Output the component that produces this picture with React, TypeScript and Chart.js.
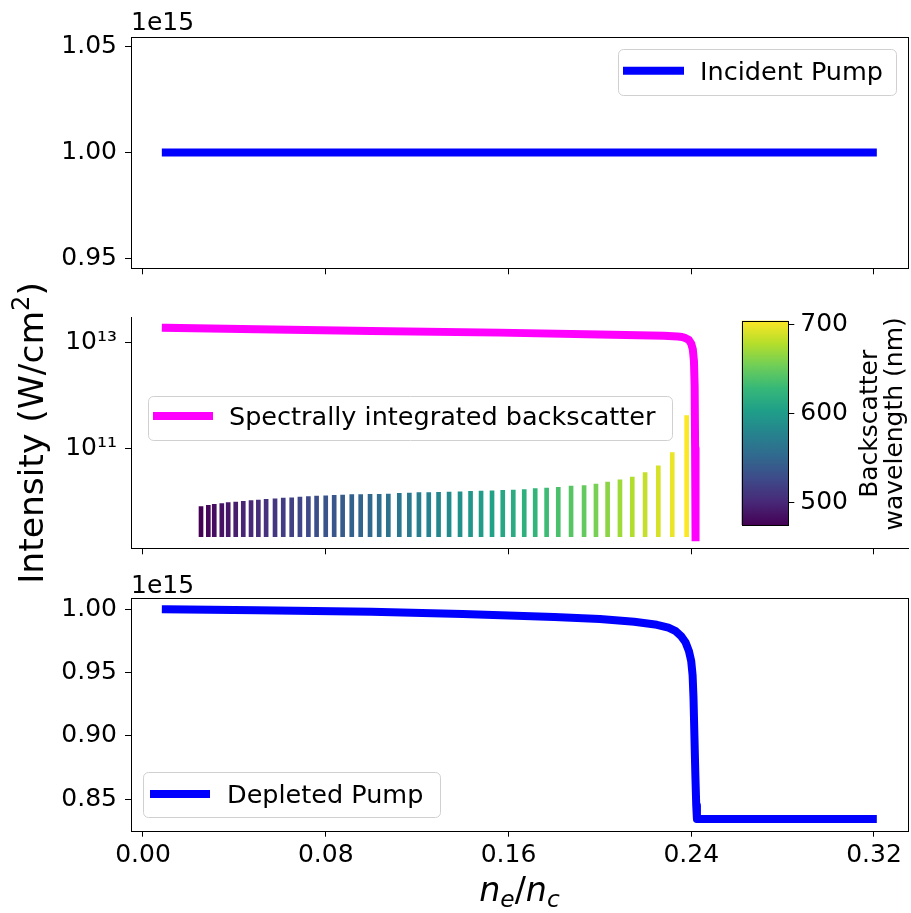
import React, { useEffect, useRef } from "react";
import { Chart, registerables } from "chart.js";

Chart.register(...registerables);

const W = 911;
const H = 913;
const FONT = "'DejaVu Sans', 'Noto Sans', sans-serif";

// ---------------- data ----------------
const xTicks = [0, 0.08, 0.16, 0.24, 0.32];
const topYTicks = [0.95, 1.0, 1.05];
const midYTicks = [1e11, 1e13];
const botYTicks = [0.85, 0.9, 0.95, 1.0];
const cbarTicks = [500, 600, 700];

const incidentX = [0.01, 0.3195];
const incidentPump = [1e15, 1e15];

const depletedX = [0.01, 0.05, 0.1, 0.14, 0.18, 0.2, 0.215, 0.225, 0.23, 0.233, 0.2355, 0.2375, 0.239, 0.24, 0.2406, 0.241, 0.2414, 0.2418, 0.2422, 0.2425, 0.3195];
const depletedPump = [
  1.0e15, 0.9993e15, 0.998e15, 0.9963e15, 0.994e15, 0.9923e15, 0.9902e15, 0.9878e15, 0.9855e15, 0.983e15,
  0.979e15, 0.974e15, 0.967e15, 0.959e15, 0.948e15, 0.93e15, 0.9e15, 0.87e15, 0.845e15, 0.8344e15, 0.8344e15,
];

const backscatterX = [0.01, 0.05, 0.1, 0.156, 0.2, 0.228, 0.234, 0.236, 0.2375, 0.239, 0.24, 0.2407, 0.2412, 0.2415, 0.2417, 0.2419];
const backscatterTotal = [1.92e13, 1.79e13, 1.66e13, 1.55e13, 1.43e13, 1.35e13, 1.31e13, 1.28e13, 1.22e13, 1.12e13, 9.6e12, 7.5e12, 4.5e12, 1.5e12, 1e11, 2.1e9];

const lineX = [
  0.0254, 0.0286, 0.0312, 0.0345, 0.0373, 0.0406, 0.0439, 0.0473, 0.0505, 0.0539,
  0.0578, 0.0614, 0.0651, 0.0687, 0.0724, 0.076, 0.08, 0.0837, 0.0874, 0.0914,
  0.0953, 0.0994, 0.1034, 0.1074, 0.1122, 0.1166, 0.1208, 0.1251, 0.1294, 0.134,
  0.1388, 0.1434, 0.148, 0.1528, 0.1575, 0.1621, 0.1669, 0.1717, 0.1767, 0.1818,
  0.1874, 0.1931, 0.1983, 0.2034, 0.2088, 0.2142, 0.2198, 0.2256, 0.2317, 0.238,
];
const lineTop = [
  7.94e9, 8.41e9, 8.77e9, 9.06e9, 9.44e9, 9.7e9, 1.0e10, 1.03e10, 1.06e10, 1.09e10,
  1.12e10, 1.15e10, 1.17e10, 1.2e10, 1.23e10, 1.26e10, 1.28e10, 1.3e10, 1.32e10, 1.34e10,
  1.34e10, 1.36e10, 1.36e10, 1.37e10, 1.42e10, 1.44e10, 1.46e10, 1.46e10, 1.48e10, 1.5e10,
  1.52e10, 1.55e10, 1.56e10, 1.59e10, 1.61e10, 1.63e10, 1.68e10, 1.74e10, 1.78e10, 1.84e10,
  1.95e10, 2.0e10, 2.12e10, 2.31e10, 2.56e10, 2.87e10, 3.52e10, 4.72e10, 8.41e10, 4.2e11,
];
const lineBase = 2.15e9;
const lineWavelength = [
  476, 480, 483, 487, 490, 494, 498, 501, 505, 508,
  512, 516, 519, 523, 527, 530, 534, 537, 541, 545,
  548, 552, 556, 560, 564, 568, 572, 577, 581, 585,
  590, 595, 600, 605, 610, 615, 620, 625, 631, 637,
  643, 649, 656, 663, 670, 677, 684, 690, 697, 703.5,
];
const cbarMin = 475.4;
const cbarMax = 703.7;

// ---------------- layout / style ----------------
const X_MIN = -0.00525;
const X_MAX = 0.3349;

const TOP_AREA = { left: 131, top: 36.5, right: 908, bottom: 268.3 };
const MID_AREA = { left: 131, top: 317, right: 908, bottom: 548.3 };
const BOT_AREA = { left: 131, top: 598.3, right: 908, bottom: 830.7 };
const CB_AREA = { left: 741.7, top: 320.7, right: 788.3, bottom: 525 };

const VIRIDIS = ["#440154", "#482878", "#3e4989", "#31688e", "#26828e", "#1f9e89", "#35b779", "#6ece58", "#b5de2b", "#fde725"];

function hexToRgb(h: string) {
  return [parseInt(h.slice(1, 3), 16), parseInt(h.slice(3, 5), 16), parseInt(h.slice(5, 7), 16)];
}
function viridis(t: number) {
  const c = Math.max(0, Math.min(1, t)) * (VIRIDIS.length - 1);
  const i = Math.min(Math.floor(c), VIRIDIS.length - 2);
  const f = c - i;
  const a = hexToRgb(VIRIDIS[i]);
  const b = hexToRgb(VIRIDIS[i + 1]);
  const m = a.map((v, k) => Math.round(v + (b[k] - v) * f));
  return `rgb(${m[0]},${m[1]},${m[2]})`;
}

const tickFont = { family: FONT, size: 25 };

function basePadding(area: any, xh: number) {
  return { left: 0, top: area.top, right: W - area.right, bottom: H - area.bottom - xh };
}

function xScale(xh: number, showLabels: boolean) {
  return {
    type: "linear",
    min: X_MIN,
    max: X_MAX,
    offset: false,
    afterBuildTicks: (s: any) => {
      s.ticks = xTicks.map((v) => ({ value: v }));
    },
    afterFit: (s: any) => {
      s.height = xh;
    },
    grid: { display: true, drawOnChartArea: false, drawTicks: true, tickLength: 6, color: "#000", lineWidth: 1, offset: false },
    border: { display: false },
    ticks: {
      display: showLabels,
      font: tickFont,
      color: "#000",
      padding: 4,
      maxRotation: 0,
      autoSkip: false,
      callback: (v: any) => Number(v).toFixed(2),
    },
  };
}

function yScaleLinear(min: number, max: number, ticks: number[], width: number) {
  return {
    type: "linear",
    min,
    max,
    afterBuildTicks: (s: any) => {
      s.ticks = ticks.map((v) => ({ value: v * 1e15 }));
    },
    afterFit: (s: any) => {
      s.width = width;
    },
    grid: { display: true, drawOnChartArea: false, drawTicks: true, tickLength: 6, color: "#000", lineWidth: 1 },
    border: { display: false },
    ticks: { font: tickFont, color: "#000", padding: 8, autoSkip: false, callback: (v: any) => (Number(v) / 1e15).toFixed(2) },
  };
}

function drawSpines(chart: any, sides: string[]) {
  const { ctx, chartArea: a } = chart;
  ctx.save();
  ctx.strokeStyle = "#000";
  ctx.lineWidth = 1;
  ctx.lineCap = "square";
  const L = Math.round(a.left) + 0.5;
  const R = Math.round(a.right) + 0.5;
  const T = Math.round(a.top) + 0.5;
  const B = Math.round(a.bottom) + 0.5;
  ctx.beginPath();
  if (sides.includes("left")) { ctx.moveTo(L, T); ctx.lineTo(L, B); }
  if (sides.includes("right")) { ctx.moveTo(R, T); ctx.lineTo(R, B); }
  if (sides.includes("top")) { ctx.moveTo(L, T); ctx.lineTo(R, T); }
  if (sides.includes("bottom")) { ctx.moveTo(L, B); ctx.lineTo(R, B); }
  ctx.stroke();
  ctx.restore();
}

function roundRect(ctx: CanvasRenderingContext2D, x: number, y: number, w: number, h: number, r: number) {
  ctx.beginPath();
  ctx.moveTo(x + r, y);
  ctx.lineTo(x + w - r, y);
  ctx.arcTo(x + w, y, x + w, y + r, r);
  ctx.lineTo(x + w, y + h - r);
  ctx.arcTo(x + w, y + h, x + w - r, y + h, r);
  ctx.lineTo(x + r, y + h);
  ctx.arcTo(x, y + h, x, y + h - r, r);
  ctx.lineTo(x, y + r);
  ctx.arcTo(x, y, x + r, y, r);
  ctx.closePath();
}

function drawLegend(chart: any, dsIndex: number, box: number[], hx0: number, hx1: number, hy: number, tx: number) {
  const ds = chart.data.datasets[dsIndex];
  const ctx = chart.ctx as CanvasRenderingContext2D;
  ctx.save();
  roundRect(ctx, box[0] + 0.5, box[1] + 0.5, box[2], box[3], 5);
  ctx.fillStyle = "rgba(255,255,255,0.8)";
  ctx.fill();
  ctx.strokeStyle = "#d0d0d0";
  ctx.lineWidth = 1;
  ctx.stroke();
  ctx.strokeStyle = ds.borderColor;
  ctx.lineWidth = ds.borderWidth;
  ctx.lineCap = "butt";
  ctx.beginPath();
  ctx.moveTo(hx0, hy);
  ctx.lineTo(hx1, hy);
  ctx.stroke();
  ctx.fillStyle = "#000";
  ctx.font = `25.5px ${FONT}`;
  ctx.textAlign = "left";
  ctx.textBaseline = "alphabetic";
  ctx.fillText(ds.label, tx, hy + 9);
  ctx.restore();
}

function drawOffsetText(chart: any, x: number, y: number) {
  const ctx = chart.ctx as CanvasRenderingContext2D;
  ctx.save();
  ctx.fillStyle = "#000";
  ctx.font = `25px ${FONT}`;
  ctx.textAlign = "left";
  ctx.textBaseline = "alphabetic";
  ctx.fillText("1e15", x, y);
  ctx.restore();
}

function lineDataset(label: string, xs: number[], ys: number[], color: string) {
  return {
    type: "line",
    label,
    data: xs.map((x, i) => ({ x, y: ys[i] })),
    borderColor: color,
    backgroundColor: color,
    borderWidth: 8,
    pointRadius: 0,
    borderCapStyle: "square",
    borderJoinStyle: "round",
    tension: 0,
    fill: false,
  };
}

function commonOptions(area: any, xh: number) {
  return {
    responsive: false,
    maintainAspectRatio: false,
    animation: false,
    devicePixelRatio: 1,
    events: [],
    layout: { padding: basePadding(area, xh) },
    plugins: { legend: { display: false }, tooltip: { enabled: false }, title: { display: false } },
  };
}

function topConfig(): any {
  const xh = 10;
  return {
    type: "line",
    data: { datasets: [lineDataset("Incident Pump", incidentX, incidentPump, "#0000ff")] },
    options: {
      ...commonOptions(TOP_AREA, xh),
      scales: {
        x: xScale(xh, false),
        y: yScaleLinear(0.9454e15, 1.0547e15, topYTicks, TOP_AREA.left),
      },
    },
    plugins: [
      {
        id: "topExtras",
        afterDraw(chart: any) {
          drawSpines(chart, ["left", "right", "top", "bottom"]);
          drawLegend(chart, 0, [618, 49, 278, 46], 623, 684, 70.7, 700);
          drawOffsetText(chart, 131, 30);
        },
      },
    ],
  };
}

function midConfig(): any {
  const xh = 10;
  return {
    type: "line",
    data: {
      datasets: [
        lineDataset("Spectrally integrated backscatter", backscatterX, backscatterTotal, "#ff00ff"),
        {
          type: "bar",
          label: "Backscatter lines",
          data: lineX.map((x, i) => ({ x, y: [lineBase, lineTop[i]] })),
          backgroundColor: lineWavelength.map((w) => viridis((w - cbarMin) / (cbarMax - cbarMin))),
          borderWidth: 0,
          barThickness: 4,
          grouped: false,
        },
      ],
    },
    options: {
      ...commonOptions(MID_AREA, xh),
      scales: {
        x: xScale(xh, false),
        y: {
          type: "logarithmic",
          min: 1.297e9,
          max: 3.06e13,
          afterBuildTicks: (s: any) => {
            s.ticks = midYTicks.map((v) => ({ value: v }));
          },
          afterFit: (s: any) => {
            s.width = MID_AREA.left;
          },
          grid: { display: true, drawOnChartArea: false, drawTicks: true, tickLength: 6, color: "#000", lineWidth: 1 },
          border: { display: false },
          ticks: {
            font: tickFont,
            color: "#000",
            padding: 8,
            autoSkip: false,
            callback: (v: any) => (Number(v) > 5e12 ? "10\u00b9\u00b3" : "10\u00b9\u00b9"),
          },
        },
      },
    },
    plugins: [
      {
        id: "midExtras",
        afterDraw(chart: any) {
          drawSpines(chart, ["left", "bottom"]);
          drawLegend(chart, 0, [148, 396, 524, 44], 153, 213, 416, 229);
          // y axis title (shared by the three panels)
          const ctx = chart.ctx as CanvasRenderingContext2D;
          const fs = 34.5;
          ctx.save();
          ctx.translate(43, 433);
          ctx.rotate(-Math.PI / 2);
          ctx.fillStyle = "#000";
          ctx.textBaseline = "alphabetic";
          ctx.textAlign = "left";
          const p1 = "Intensity (W/cm";
          const p2 = "2";
          const p3 = ")";
          ctx.font = `${fs}px ${FONT}`;
          const w1 = ctx.measureText(p1).width;
          const w3 = ctx.measureText(p3).width;
          ctx.font = `${fs * 0.7}px ${FONT}`;
          const w2 = ctx.measureText(p2).width;
          let x = -(w1 + w2 + w3) / 2;
          ctx.font = `${fs}px ${FONT}`;
          ctx.fillText(p1, x, 0);
          x += w1;
          ctx.font = `${fs * 0.7}px ${FONT}`;
          ctx.fillText(p2, x, -fs * 0.4);
          x += w2;
          ctx.font = `${fs}px ${FONT}`;
          ctx.fillText(p3, x, 0);
          ctx.restore();
        },
      },
    ],
  };
}

function botConfig(): any {
  const xh = 60;
  return {
    type: "line",
    data: { datasets: [lineDataset("Depleted Pump", depletedX, depletedPump, "#0000ff")] },
    options: {
      ...commonOptions(BOT_AREA, xh),
      scales: {
        x: xScale(xh, true),
        y: yScaleLinear(0.8252e15, 1.0087e15, botYTicks, BOT_AREA.left),
      },
    },
    plugins: [
      {
        id: "botExtras",
        afterDraw(chart: any) {
          drawSpines(chart, ["left", "right", "top", "bottom"]);
          drawLegend(chart, 0, [143, 772, 297, 45], 150, 210, 794, 227);
          drawOffsetText(chart, 131, 593);
          // x axis title n_e/n_c
          const ctx = chart.ctx as CanvasRenderingContext2D;
          const fs = 33.3;
          const sub = fs * 0.7;
          const parts: [string, string, number][] = [
            ["n", `italic ${fs}px ${FONT}`, 0],
            ["e", `italic ${sub}px ${FONT}`, fs * 0.18],
            ["/", `${fs}px ${FONT}`, 0],
            ["n", `italic ${fs}px ${FONT}`, 0],
            ["c", `italic ${sub}px ${FONT}`, fs * 0.18],
          ];
          ctx.save();
          ctx.fillStyle = "#000";
          ctx.textBaseline = "alphabetic";
          ctx.textAlign = "left";
          let total = 0;
          const widths = parts.map(([t, f]) => {
            ctx.font = f;
            const w = ctx.measureText(t).width;
            total += w;
            return w;
          });
          const cx = (chart.chartArea.left + chart.chartArea.right) / 2;
          let x = cx - total / 2;
          parts.forEach(([t, f, dy], i) => {
            ctx.font = f;
            ctx.fillText(t, x, 901 + dy);
            x += widths[i];
          });
          ctx.restore();
        },
      },
    ],
  };
}

function cbarConfig(): any {
  const yw = 60;
  return {
    type: "scatter",
    data: { datasets: [] },
    options: {
      responsive: false,
      maintainAspectRatio: false,
      animation: false,
      devicePixelRatio: 1,
      events: [],
      layout: {
        padding: { left: CB_AREA.left, top: CB_AREA.top, right: W - CB_AREA.right - yw, bottom: H - CB_AREA.bottom },
      },
      plugins: { legend: { display: false }, tooltip: { enabled: false }, title: { display: false } },
      scales: {
        x: { type: "linear", display: false, min: 0, max: 1 },
        y: {
          type: "linear",
          position: "right",
          min: cbarMin,
          max: cbarMax,
          afterBuildTicks: (s: any) => {
            s.ticks = cbarTicks.map((v) => ({ value: v }));
          },
          afterFit: (s: any) => {
            s.width = yw;
          },
          grid: { display: true, drawOnChartArea: false, drawTicks: true, tickLength: 6, color: "#000", lineWidth: 1 },
          border: { display: false },
          ticks: { font: tickFont, color: "#000", padding: 6, autoSkip: false, callback: (v: any) => String(v) },
        },
      },
    },
    plugins: [
      {
        id: "cbarFill",
        beforeDatasetsDraw(chart: any) {
          const { ctx, chartArea: a } = chart;
          const g = ctx.createLinearGradient(0, a.bottom, 0, a.top);
          VIRIDIS.forEach((c, i) => g.addColorStop(i / (VIRIDIS.length - 1), c));
          ctx.save();
          ctx.fillStyle = g;
          ctx.fillRect(a.left, a.top, a.right - a.left, a.bottom - a.top);
          ctx.restore();
        },
        afterDraw(chart: any) {
          drawSpines(chart, ["left", "right", "top", "bottom"]);
          const ctx = chart.ctx as CanvasRenderingContext2D;
          const a = chart.chartArea;
          ctx.save();
          ctx.fillStyle = "#000";
          ctx.font = `25px ${FONT}`;
          ctx.textAlign = "center";
          ctx.textBaseline = "alphabetic";
          const cy = (a.top + a.bottom) / 2 + 1;
          ctx.translate(877, cy);
          ctx.rotate(-Math.PI / 2);
          ctx.fillText("Backscatter", 0, 0);
          ctx.fillText("wavelength (nm)", 0, 24.5);
          ctx.restore();
        },
      },
    ],
  };
}

export default function App() {
  const r1 = useRef<HTMLCanvasElement>(null);
  const r2 = useRef<HTMLCanvasElement>(null);
  const r3 = useRef<HTMLCanvasElement>(null);
  const r4 = useRef<HTMLCanvasElement>(null);

  useEffect(() => {
    const charts: Chart[] = [];
    if (r1.current) charts.push(new Chart(r1.current, topConfig()));
    if (r2.current) charts.push(new Chart(r2.current, midConfig()));
    if (r3.current) charts.push(new Chart(r3.current, botConfig()));
    if (r4.current) charts.push(new Chart(r4.current, cbarConfig()));
    return () => charts.forEach((c) => c.destroy());
  }, []);

  const cs: React.CSSProperties = { position: "absolute", left: 0, top: 0, width: W, height: H };
  return (
    <div style={{ position: "fixed", left: 0, top: 0, width: W, height: H, background: "#fff", overflow: "hidden" }}>
      <canvas ref={r1} width={W} height={H} style={cs} />
      <canvas ref={r2} width={W} height={H} style={cs} />
      <canvas ref={r3} width={W} height={H} style={cs} />
      <canvas ref={r4} width={W} height={H} style={cs} />
    </div>
  );
}
